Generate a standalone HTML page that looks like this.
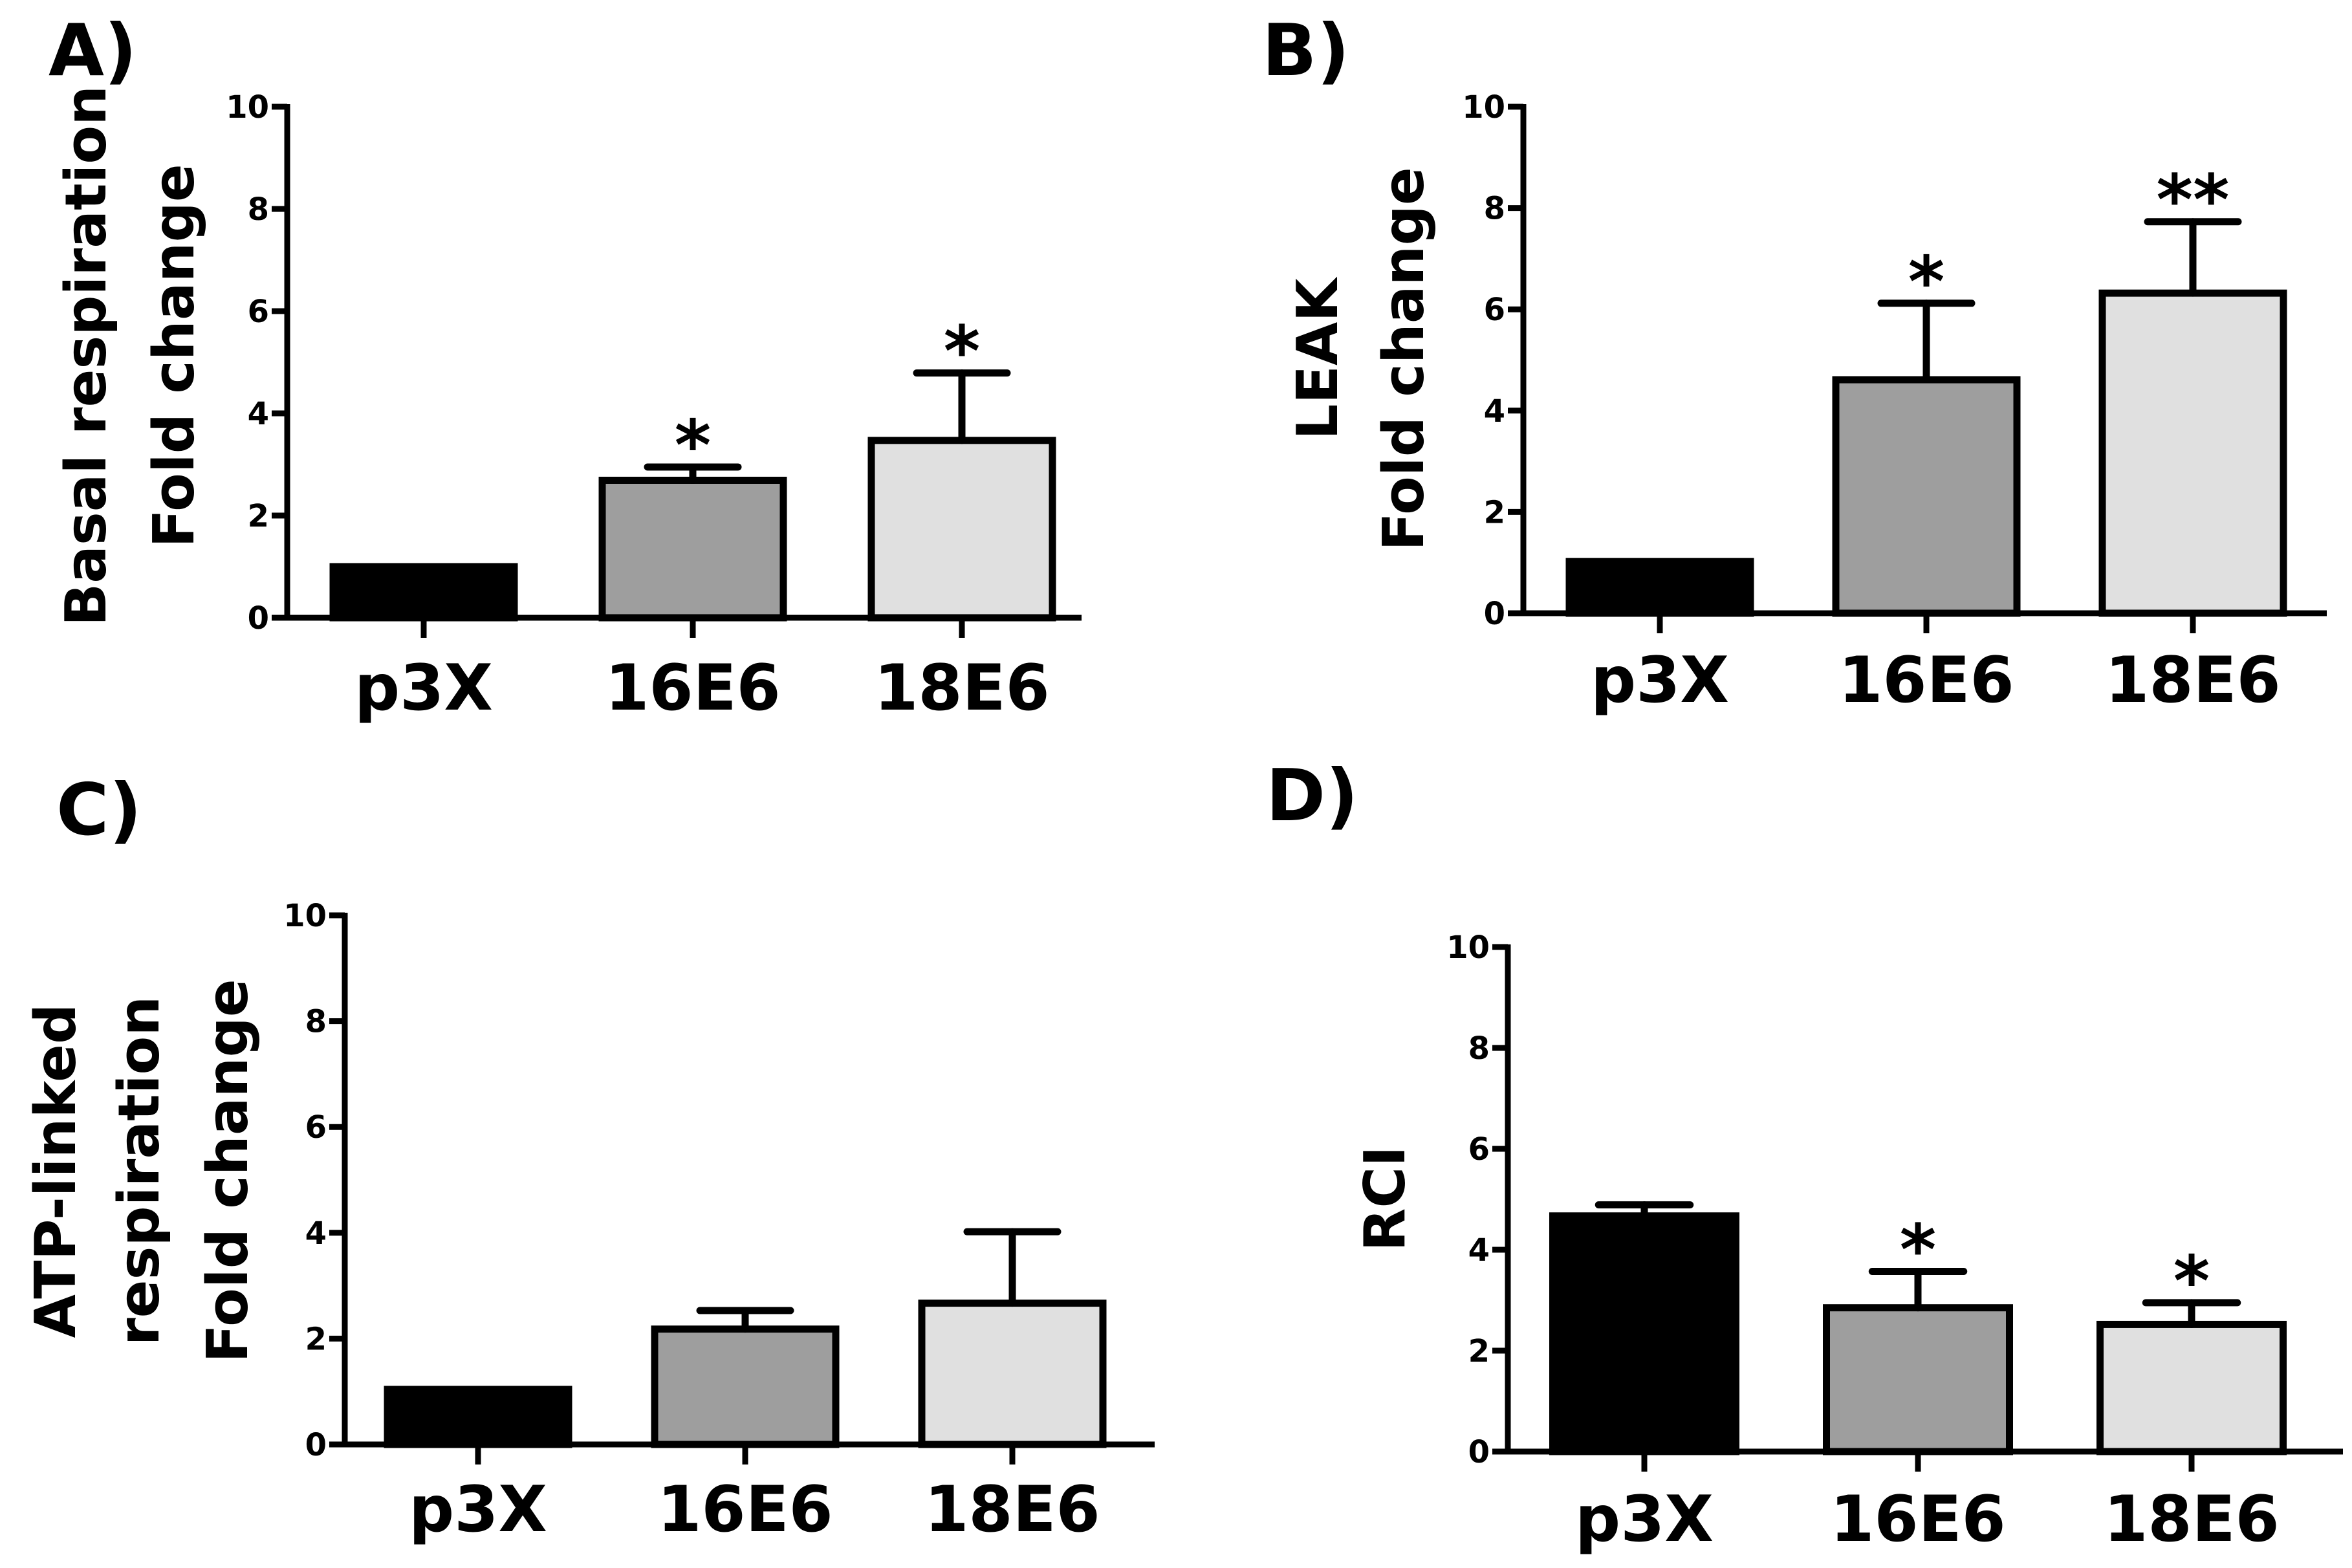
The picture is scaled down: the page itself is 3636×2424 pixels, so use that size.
<!DOCTYPE html>
<html><head><meta charset="utf-8"><style>
html,body{margin:0;padding:0;background:#fff;}
svg{display:block;}
text{font-family:"DejaVu Sans","Liberation Sans",sans-serif;font-weight:bold;fill:#000;}
</style></head><body>
<svg id="fig" width="3636" height="2424" viewBox="0 0 3636 2424" xmlns="http://www.w3.org/2000/svg"></svg>
<script>
const categories = ["p3X","16E6","18E6"];
const yTicks = [0,2,4,6,8,10];
const fills = ["#000000","#9e9e9e","#e0e0e0"];
const basalValues = [1.0, 2.69, 3.47];
const basalErrors = [0.0, 0.26, 1.32];
const basalStars = ["", "*", "*"];
const leakValues = [1.02, 4.61, 6.32];
const leakErrors = [0.0, 1.51, 1.41];
const leakStars = ["", "*", "**"];
const atpValues = [1.04, 2.18, 2.67];
const atpErrors = [0.0, 0.35, 1.35];
const atpStars = ["", "", ""];
const rciValues = [4.67, 2.85, 2.52];
const rciErrors = [0.22, 0.72, 0.43];
const rciStars = ["", "*", "*"];

const svg = document.getElementById('fig');
const NS = "http://www.w3.org/2000/svg";
function mk(tag, attrs, parent){
  const e = document.createElementNS(NS, tag);
  for (const k in attrs) e.setAttribute(k, attrs[k]);
  (parent||svg).appendChild(e);
  return e;
}

function panel(cfg, values, errors, stars){
  const g = mk('g', {});
  
  
  const y = v => cfg.y0 - (cfg.y0 - cfg.y10) * v / 10;
  const xc = i => cfg.c0 + i * cfg.step;
  const bw = cfg.bw;
  const pl = mk('text', {x: cfg.lx, y: cfg.ly, 'font-size': 111}, g);
  pl.textContent = cfg.letter;
  
  
  const yt = mk('g', {}, g);
  
  
  cfg.title.forEach(t => {
    const tx = mk('text', {x: 0, y: 0, 'font-size': 87, 'text-anchor': 'middle',
      transform: 'translate(' + t[1] + ',' + cfg.tcy + ') rotate(-90)'}, yt);
    tx.textContent = t[0];
  });
  values.forEach((v, i) => {
    const top = y(v);
    const r = mk('rect', {x: xc(i) - bw/2, y: top, width: bw, height: cfg.y0 - top,
      fill: fills[i], stroke: '#000', 'stroke-width': 11}, g);
    
    
    const e = errors[i];
    if (e > 0) {
      const eg = mk('g', {stroke: '#000', 'stroke-width': 11, 'stroke-linecap': 'round'}, g);
      
      
      mk('line', {x1: xc(i), x2: xc(i), y1: top, y2: y(v + e)}, eg);
      mk('line', {x1: xc(i) - bw/4, x2: xc(i) + bw/4, y1: y(v + e), y2: y(v + e)}, eg);
    }
    if (stars[i]) {
      const s = mk('text', {x: xc(i), y: y(v + e) + 4, 'font-size': 108, 'text-anchor': 'middle'}, g);
      s.textContent = stars[i];
      
      
    }
  });
  const ax = mk('g', {stroke: '#000', 'stroke-width': 9}, g);
  
  
  mk('line', {x1: cfg.ax, x2: cfg.ax, y1: cfg.y10 - 4, y2: cfg.y0 + 4}, ax);
  mk('line', {x1: cfg.ax - 4, x2: cfg.xEnd, y1: cfg.y0, y2: cfg.y0}, ax);
  yTicks.forEach(t => {
    mk('line', {x1: cfg.ax - 24, x2: cfg.ax, y1: y(t), y2: y(t)}, ax);
    const tl = mk('text', {x: cfg.ax - 28, y: y(t) + 17, 'font-size': 48, 'text-anchor': 'end'}, g);
    tl.textContent = t;
    
    
  });
  categories.forEach((c, i) => {
    mk('line', {x1: xc(i), x2: xc(i), y1: cfg.y0, y2: cfg.y0 + 31}, ax);
    const cl = mk('text', {x: xc(i), y: cfg.cy, 'font-size': 98, 'text-anchor': 'middle'}, g);
    cl.textContent = c;
    
    
  });
}

panel({id:'a', letter:'A)', lx:75, ly:116, ax:444, y0:955, y10:165, xEnd:1672, c0:655, step:416, bw:280, cy:1097,
  title:[['Basal respiration',163],['Fold change',299]], tcy:550}, basalValues, basalErrors, basalStars);
panel({id:'b', letter:'B)', lx:1951, ly:116, ax:2355, y0:948, y10:165, xEnd:3597, c0:2566, step:412, bw:280, cy:1085,
  title:[['LEAK',2067],['Fold change',2200]], tcy:555}, leakValues, leakErrors, leakStars);
panel({id:'c', letter:'C)', lx:87, ly:1290, ax:533, y0:2233, y10:1415, xEnd:1785, c0:739, step:413, bw:280, cy:2367,
  title:[['ATP-linked',116],['respiration',245],['Fold change',382]], tcy:1810}, atpValues, atpErrors, atpStars);
panel({id:'d', letter:'D)', lx:1957, ly:1268, ax:2331, y0:2244, y10:1464, xEnd:3622, c0:2542, step:423, bw:283, cy:2382,
  title:[['RCI',2171]], tcy:1853}, rciValues, rciErrors, rciStars);
</script>
</body></html>
